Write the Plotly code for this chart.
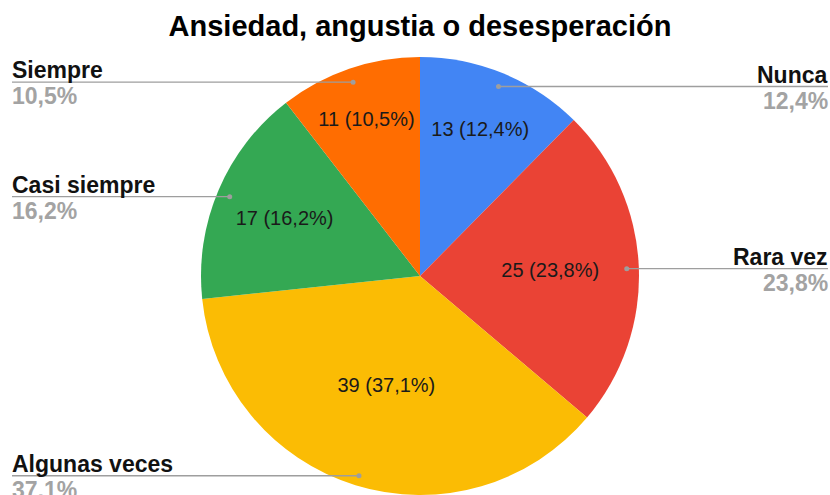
import math
import plotly.graph_objects as go

categories = ["Nunca", "Rara vez", "Algunas veces", "Casi siempre", "Siempre"]
values = [13, 25, 39, 17, 11]
colors = ["#4285F4", "#EA4335", "#FBBC04", "#34A853", "#FF6D01"]
title = "Ansiedad, angustia o desesperación"

W, H = 830, 495
CX, CY, R = 420, 276, 219
FONT = "Liberation Sans, Arial, sans-serif"

total = sum(values)
pct = [f"{v / total * 100:.1f}".replace(".", ",") + "%" for v in values]

fig = go.Figure(go.Pie(
    labels=categories,
    values=values,
    customdata=pct,
    marker=dict(colors=colors, line=dict(width=0)),
    sort=False,
    direction="clockwise",
    rotation=0,
    texttemplate="%{value} (%{customdata})",
    textposition="inside",
    insidetextorientation="horizontal",
    textfont=dict(family=FONT, size=20, color="#1a1a1a"),
    showlegend=False,
    hoverinfo="label+value+percent",
    domain=dict(x=[(CX - R) / W, (CX + R) / W], y=[(H - CY - R) / H, (H - CY + R) / H]),
))

shapes = []
annotations = []
cum = 0
for name, v, p in zip(categories, values, pct):
    mid = (cum + v / 2) / total * 2 * math.pi
    cum += v
    dx = 0.945 * R * math.sin(mid)
    dy = 0.945 * R * math.cos(mid)
    px, py = CX + dx, CY - dy
    right = dx > 0
    ex = W - 2 if right else 12
    tx = W if right else 10
    yp = 1 - (py + 2) / H
    shapes.append(dict(type="line", xref="paper", yref="paper",
                       x0=px / W, x1=ex / W, y0=yp, y1=yp,
                       line=dict(color="#9e9e9e", width=1.3)))
    shapes.append(dict(type="circle", xref="paper", yref="paper",
                       x0=(px - 2.5) / W, x1=(px + 2.5) / W,
                       y0=yp - 2.5 / H, y1=yp + 2.5 / H,
                       fillcolor="#9e9e9e", line=dict(width=0)))
    anchor = "right" if right else "left"
    annotations.append(dict(x=tx / W, y=yp, xref="paper", yref="paper",
                            text=f"<b>{name}</b>", showarrow=False,
                            xanchor=anchor, yanchor="bottom", yshift=-3,
                            font=dict(family=FONT, size=23, color="#111111")))
    annotations.append(dict(x=tx / W, y=yp, xref="paper", yref="paper",
                            text=f"<b>{p}</b>", showarrow=False,
                            xanchor=anchor, yanchor="top", yshift=1,
                            font=dict(family=FONT, size=23, color="#a3a3a3")))

fig.update_layout(
    width=W, height=H,
    margin=dict(l=0, r=0, t=0, b=0),
    paper_bgcolor="white",
    plot_bgcolor="white",
    title=dict(text=f"<b>{title}</b>", x=0.506, xanchor="center", y=1 - 26 / H, yanchor="middle",
               font=dict(family=FONT, size=29, color="#000000")),
    shapes=shapes,
    annotations=annotations,
)

fig.write_html("out.html", config={"displayModeBar": False},
               post_script="document.body.style.margin='0';")
